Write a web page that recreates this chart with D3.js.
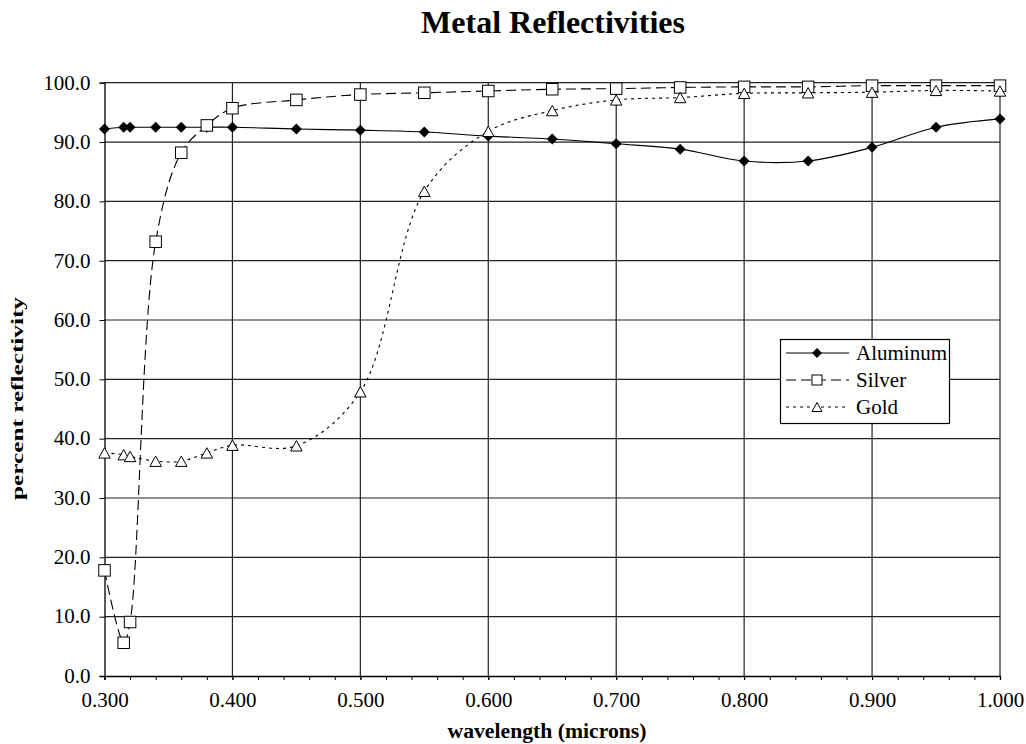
<!DOCTYPE html>
<html>
<head>
<meta charset="utf-8">
<script src="https://cdn.jsdelivr.net/npm/d3@7"></script>
<style>
  html, body { margin: 0; padding: 0; background: #fff; }
  svg, svg text { font-family: "Liberation Serif", "Times New Roman", Tinos, "DejaVu Serif", serif !important; }
</style>
</head>
<body>
<script>
// ---- data ----
const wavelengths = [0.300, 0.315, 0.320, 0.340, 0.360, 0.380, 0.400, 0.450, 0.500, 0.550, 0.600, 0.650, 0.700, 0.750, 0.800, 0.850, 0.900, 0.950, 1.000];
const aluminum = [92.2, 92.5, 92.5, 92.5, 92.5, 92.5, 92.5, 92.2, 92.0, 91.7, 91.0, 90.5, 89.7, 88.8, 86.8, 86.8, 89.1, 92.5, 93.9];
const silver   = [17.8, 5.6, 9.1, 73.2, 88.2, 92.8, 95.7, 97.1, 98.0, 98.3, 98.6, 98.9, 99.0, 99.2, 99.3, 99.3, 99.5, 99.5, 99.5];
const gold     = [37.6, 37.3, 37.0, 36.2, 36.2, 37.6, 38.9, 38.8, 47.9, 81.7, 91.8, 95.3, 97.1, 97.5, 98.2, 98.3, 98.4, 98.7, 98.6];
const seriesNames = ["Aluminum", "Silver", "Gold"];
const xTickValues = [0.3, 0.4, 0.5, 0.6, 0.7, 0.8, 0.9, 1.0];
const yTickValues = [0, 10, 20, 30, 40, 50, 60, 70, 80, 90, 100];
const titleText = "Metal Reflectivities";
const xLabelText = "wavelength (microns)";
const yLabelText = "percent reflectivity";

// ---- layout ----
const W = 1026, H = 744;
const pLeft = 104.5, pRight = 1000, pTop = 82.7, pBottom = 676;
const FONT = '"Liberation Serif", "Times New Roman", Tinos, "DejaVu Serif", serif';

const svg = d3.select("body").append("svg").attr("width", W).attr("height", H);

const x = d3.scaleLinear().domain([0.3, 1.0]).range([pLeft, pRight]);
const y = d3.scaleLinear().domain([0, 100]).range([pBottom, pTop]);

// gridlines
const grid = svg.append("g");
grid.selectAll("line.h").data(yTickValues.filter(v => v > 0)).enter().append("line")
  .attr("x1", pLeft).attr("x2", pRight)
  .attr("y1", d => y(d)).attr("y2", d => y(d))
  .attr("stroke", "#222").attr("stroke-width", 1.2);
grid.selectAll("line.v").data(xTickValues.filter(v => v > 0.3)).enter().append("line")
  .attr("y1", pTop).attr("y2", pBottom)
  .attr("x1", d => x(d)).attr("x2", d => x(d))
  .attr("stroke", "#222").attr("stroke-width", 1.2);

// y axis
const yAxis = d3.axisLeft(y).tickValues(yTickValues).tickSize(5).tickPadding(9)
  .tickFormat(d3.format(".1f"));
const gy = svg.append("g").attr("transform", `translate(${pLeft},0)`).call(yAxis)
  .attr("font-family", null);
gy.select(".domain").attr("stroke", "#000").attr("stroke-width", 1.3);
gy.selectAll(".tick line").attr("stroke", "#000");
gy.selectAll(".tick text").attr("font-size", 21).attr("fill", "#000")
  .style("font-family", FONT).attr("dy", "0.3em");

// x axis (minor ticks every 0.02)
const minorTicks = d3.range(0, 36).map(i => +(0.3 + i * 0.02).toFixed(2));
const xAxisMinor = d3.axisBottom(x).tickValues(minorTicks).tickSize(4).tickFormat("");
const gxm = svg.append("g").attr("transform", `translate(0,${pBottom})`).call(xAxisMinor);
gxm.select(".domain").attr("stroke", "#000").attr("stroke-width", 1.3);
gxm.selectAll(".tick line").attr("stroke", "#000");

const xAxis = d3.axisBottom(x).tickValues(xTickValues).tickSize(4).tickPadding(12)
  .tickFormat(d3.format(".3f"));
const gx = svg.append("g").attr("transform", `translate(0,${pBottom})`).call(xAxis)
  .attr("font-family", null);
gx.select(".domain").remove();
gx.selectAll(".tick line").attr("stroke", "#000");
gx.selectAll(".tick text").attr("font-size", 21).attr("fill", "#000")
  .style("font-family", FONT);

// ---- series ----
const line = d3.line().curve(d3.curveCatmullRom.alpha(0.5))
  .x(d => x(d[0])).y(d => y(d[1]));

const seriesData = [aluminum, silver, gold].map(vals => wavelengths.map((w, i) => [w, vals[i]]));
const dashes = [null, "10,5", "3,4"];

const gS = svg.append("g");
seriesData.forEach((pts, si) => {
  gS.append("path").datum(pts).attr("d", line)
    .attr("fill", "none").attr("stroke", "#000").attr("stroke-width", 1.1)
    .attr("stroke-dasharray", dashes[si]);
});

function drawMarker(g, kind, cx, cy, s) {
  if (kind === 0) {
    g.append("path")
      .attr("d", `M${cx},${cy - s / 2}L${cx + s / 2},${cy}L${cx},${cy + s / 2}L${cx - s / 2},${cy}Z`)
      .attr("fill", "#000");
  } else if (kind === 1) {
    g.append("rect").attr("x", cx - s / 2).attr("y", cy - s / 2).attr("width", s).attr("height", s)
      .attr("fill", "#fff").attr("stroke", "#000").attr("stroke-width", 1);
  } else {
    const h = s * 0.9;
    g.append("path")
      .attr("d", `M${cx},${cy - h / 2}L${cx + s / 2},${cy + h / 2}L${cx - s / 2},${cy + h / 2}Z`)
      .attr("fill", "#fff").attr("stroke", "#000").attr("stroke-width", 1);
  }
}

seriesData.forEach((pts, si) => {
  const g = svg.append("g");
  pts.forEach(p => drawMarker(g, si, x(p[0]), y(p[1]), si === 0 ? 11 : 11.5));
});

// ---- title & labels ----
svg.append("text").attr("x", 553).attr("y", 33).attr("text-anchor", "middle")
  .attr("font-size", 32).attr("font-weight", "bold").style("font-family", FONT).text(titleText);

svg.append("text").attr("x", 547).attr("y", 738).attr("text-anchor", "middle")
  .attr("font-size", 20).attr("font-weight", "bold").style("font-family", FONT)
  .attr("textLength", 199).attr("lengthAdjust", "spacingAndGlyphs").text(xLabelText);

// y label: stretched along its direction to match reference length
const yl = svg.append("text").attr("text-anchor", "middle")
  .attr("font-size", 16).attr("font-weight", "bold").style("font-family", FONT)
  .text(yLabelText);
const natLen = yl.node().getComputedTextLength() || 130;
const sx = 203 / natLen;
yl.attr("transform", `translate(23,398.5) rotate(-90) scale(${sx},1)`);

// ---- legend ----
const lg = svg.append("g");
lg.append("rect").attr("x", 780.5).attr("y", 339.5).attr("width", 169).attr("height", 84)
  .attr("fill", "#fff").attr("stroke", "#000").attr("stroke-width", 1.2);
seriesNames.forEach((name, i) => {
  const cy = 353 + i * 27;
  lg.append("line").attr("x1", 786).attr("x2", 849).attr("y1", cy).attr("y2", cy)
    .attr("stroke", "#000").attr("stroke-width", 1.1).attr("stroke-dasharray", dashes[i]);
  drawMarker(lg, i, 817, cy, 10);
  lg.append("text").attr("x", 856).attr("y", cy).attr("dy", "0.33em")
    .attr("font-size", 21).style("font-family", FONT).text(name);
});
</script>
</body>
</html>
